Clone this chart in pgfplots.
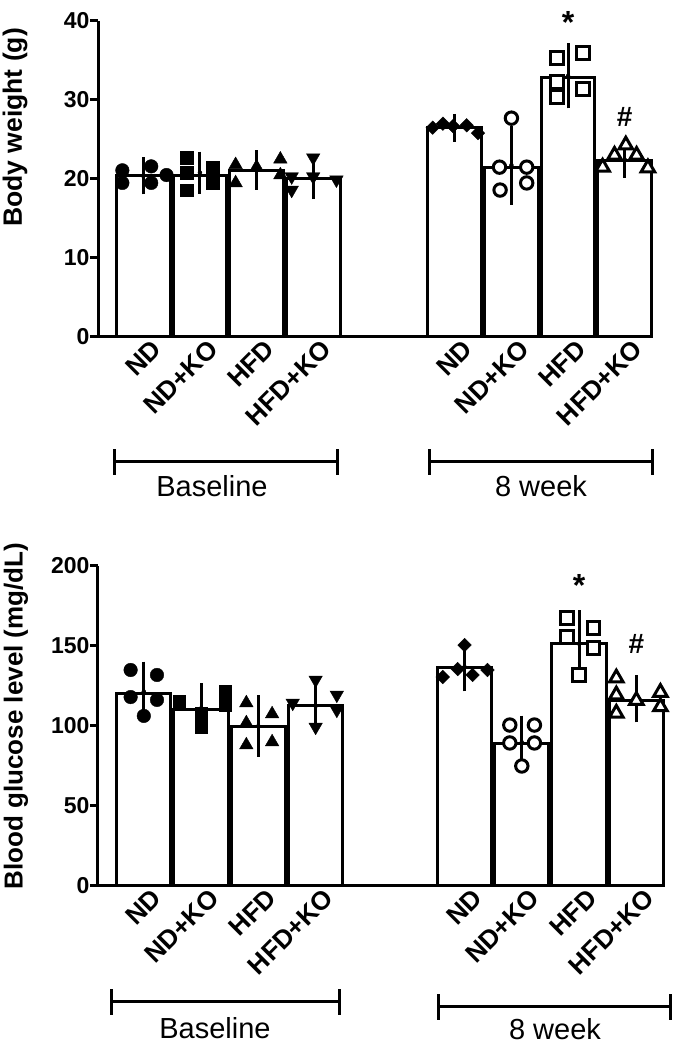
\documentclass[border=0pt]{standalone}
\usepackage{fontspec}
\setmainfont{Liberation Sans}
\usepackage{pgfplots}
\pgfplotsset{compat=1.18}

\newcommand\tfont{\fontsize{23}{26}\selectfont\bfseries}
\newcommand\cfont{\fontsize{26}{30}\selectfont\bfseries}

\pgfplotsset{
  mybar/.style={ybar, bar width=0.948, bar shift=0pt, fill=white, draw=black, line width=3pt},
  myerr/.style={only marks, mark=none,
    error bars/.cd, y dir=both, y explicit,
    error bar style={line width=3pt, black},
    error mark options={line width=3pt, black, mark size=11.5pt}},
  fcirc/.style={only marks, mark=*, mark size=6.8pt, mark options={fill=black, draw=black, line width=0.4pt}},
  fsq/.style={only marks, mark=square*, mark size=6.3pt, mark options={fill=black, draw=black, line width=0.4pt}},
  ftri/.style={only marks, mark=triangle*, mark size=7.8pt, mark options={fill=black, draw=black, line width=0.4pt}},
  fitri/.style={only marks, mark=triangle*, mark size=7.8pt, mark options={fill=black, draw=black, line width=0.4pt, rotate=180}},
  fdia/.style={only marks, mark=square*, mark size=4.8pt, mark options={fill=black, draw=black, line width=0.4pt, rotate=45}},
  ocirc/.style={only marks, mark=*, mark size=6.2pt, mark options={fill=white, draw=black, line width=3pt}},
  osq/.style={only marks, mark=square*, mark size=6.4pt, mark options={fill=white, draw=black, line width=3pt}},
  otri/.style={only marks, mark=triangle*, mark size=7.8pt, mark options={fill=white, draw=black, line width=3pt}},
  common/.style={
    scale only axis, anchor=south west,
    axis lines=left, axis line style={-, line width=3pt, black},
    tick align=outside, major tick length=8pt,
    ytick style={line width=3pt, black},
    xtick style={draw=none},
    xticklabels={ND,ND+KO,HFD,HFD+KO,ND,ND+KO,HFD,HFD+KO},
    xticklabel style={font=\cfont, rotate=45, anchor=east, xshift=13pt, yshift=-9pt},
    yticklabel style={font=\tfont, xshift=3pt},
    /pgf/number format/assume math mode=true,
    clip=false, enlargelimits=false,
    ymin=0, xmin=-0.8,
  },
}

\begin{document}
\begin{tikzpicture}
\useasboundingbox (0,0) rectangle (685pt,1046pt);

% ---------------- Top: body weight ----------------
\begin{axis}[common, at={(98pt,709pt)}, width=555pt, height=316pt,
  xmax=9.0, ymax=40, ytick={0,10,20,30,40},
  xtick={0,1,2,3,5.5,6.5,7.5,8.5},
  ylabel={Body weight (g)},
  ylabel style={at={(axis description cs:-0.1495,0.663)}, rotate=0, anchor=center, font=\fontsize{26.5}{30}\selectfont\bfseries},
]
\addplot[mybar] coordinates {(0,20.4) (1,20.5) (2,21.1) (3,20.0) (5.5,26.5) (6.5,21.5) (7.5,32.9) (8.5,22.4)};
\addplot[myerr] coordinates {
  (0,20.4) +- (0,0.9) (1,20.8) +- (0,1.2) (2,21.15) +- (0,1.05) (3,20.15) +- (0,1.25)
  (5.5,26.5) +- (0,0.3) (6.5,21.75) +- (0,3.55) (7.5,33.05) +- (0,2.65) (8.5,22.45) +- (0,0.85)};
\addplot[fcirc] coordinates {(-0.37,21.1) (-0.37,19.5) (0.14,21.6) (0.14,19.5) (0.41,20.5)};
\addplot[fsq] coordinates {(0.77,22.7) (0.77,20.8) (0.77,18.6) (1.23,21.5) (1.23,19.5)};
\addplot[ftri] coordinates {(1.63,21.8) (1.63,19.5) (2.0,21.5) (2.42,22.5) (2.42,20.5)};
\addplot[fitri] coordinates {(2.62,20.3) (2.62,18.6) (3.0,22.7) (3.0,20.3) (3.41,19.9)};
\addplot[fdia] coordinates {(5.11,26.5) (5.29,27.0) (5.47,26.7) (5.71,26.8) (5.91,25.8)};
\addplot[ocirc] coordinates {(6.5,27.7) (6.29,21.5) (6.77,21.5) (6.3,18.6) (6.77,19.5)};
\addplot[osq] coordinates {(7.3,35.3) (7.3,32.3) (7.3,30.4) (7.77,35.9) (7.77,31.4)};
\addplot[otri] coordinates {(8.11,21.5) (8.32,23.0) (8.52,24.3) (8.71,23.0) (8.91,21.4)};
\node[font=\fontsize{32}{32}\selectfont\bfseries, anchor=base] at (axis cs:7.5,38.4) {*};
\node[font=\fontsize{28}{28}\selectfont\bfseries, anchor=base] at (axis cs:8.5,26.6) {\#};
\end{axis}

% ---------------- Bottom: blood glucose ----------------
\begin{axis}[common, at={(98pt,160pt)}, width=567pt, height=320pt,
  xmax=9.1, ymax=200, ytick={0,50,100,150,200},
  xtick={0,1,2,3,5.6,6.6,7.6,8.6},
  ylabel={Blood glucose level (mg/dL)},
  ylabel style={at={(axis description cs:-0.1446,0.531)}, rotate=0, anchor=center, font=\fontsize{26}{30}\selectfont\bfseries},
]
\addplot[mybar] coordinates {(0,120.6) (1,110.6) (2,99.4) (3,112.5) (5.6,136.3) (6.6,88.8) (7.6,151.3) (8.6,116)};
\addplot[myerr] coordinates {
  (0,121.5) +- (0,11.5) (1,111) +- (0,8.5) (2,100) +- (0,11.9) (3,112.5) +- (0,10)
  (5.6,136.9) +- (0,8.1) (6.6,89.8) +- (0,9.5) (7.6,151.5) +- (0,13.5) (8.6,117) +- (0,7.5)};
\addplot[fcirc] coordinates {(-0.23,135) (-0.23,118.1) (0.23,131.9) (0.23,116.3) (0,106.3)};
\addplot[fsq] coordinates {(0.62,115.6) (1.42,121.3) (1.42,113.1) (1.0,108.1) (1.0,99.4)};
\addplot[ftri] coordinates {(1.79,114.4) (1.79,101.9) (1.79,88.1) (2.24,107.5) (2.24,90)};
\addplot[fitri] coordinates {(2.6,114.4) (3.0,128.8) (3.0,99.4) (3.37,119.4) (3.37,110)};
\addplot[fdia] coordinates {(5.6,150.6) (5.48,135.6) (6.0,135) (5.22,130.6) (5.74,131.9)};
\addplot[ocirc] coordinates {(6.39,100.6) (6.39,89.4) (6.82,100.6) (6.82,89.4) (6.6,75)};
\addplot[osq] coordinates {(7.39,167.5) (7.39,155.6) (7.85,161.3) (7.85,148.8) (7.6,131.9)};
\addplot[otri] coordinates {(8.25,130) (8.25,119.4) (8.25,108) (8.6,116) (9.02,121) (9.02,112)};
\node[font=\fontsize{32}{32}\selectfont\bfseries, anchor=base] at (axis cs:7.6,181) {*};
\node[font=\fontsize{28}{28}\selectfont\bfseries, anchor=base] at (axis cs:8.6,145) {\#};
\end{axis}

% ---------------- group brackets ----------------
\begin{scope}[line width=3pt]
\draw (114pt,584pt) -- (337pt,584pt);
\draw (114pt,571pt) -- (114pt,597pt);
\draw (337pt,571pt) -- (337pt,597pt);
\draw (429pt,584pt) -- (652pt,584pt);
\draw (429pt,571pt) -- (429pt,597pt);
\draw (652pt,571pt) -- (652pt,597pt);
\draw (111pt,44pt) -- (339pt,44pt);
\draw (111pt,31pt) -- (111pt,57pt);
\draw (339pt,31pt) -- (339pt,57pt);
\draw (438pt,39pt) -- (670pt,39pt);
\draw (438pt,26pt) -- (438pt,52pt);
\draw (670pt,26pt) -- (670pt,52pt);
\end{scope}
\node[font=\fontsize{29}{32}\selectfont, anchor=base] at (212pt,549pt) {Baseline};
\node[font=\fontsize{29}{32}\selectfont, anchor=base] at (541pt,549pt) {8 week};
\node[font=\fontsize{29}{32}\selectfont, anchor=base] at (215pt,8pt) {Baseline};
\node[font=\fontsize{29}{32}\selectfont, anchor=base] at (555pt,6pt) {8 week};
\end{tikzpicture}
\end{document}
